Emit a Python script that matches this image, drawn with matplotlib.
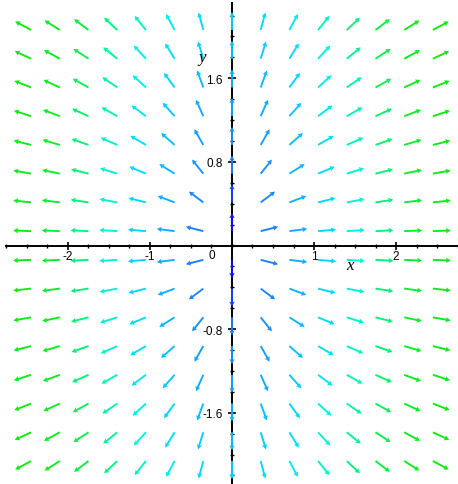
import numpy as np
import matplotlib
matplotlib.use("Agg")
import matplotlib.pyplot as plt
from matplotlib.colors import LinearSegmentedColormap, Normalize

plt.rcParams['axes.unicode_minus'] = False
plt.rcParams['font.family'] = ['Liberation Sans', 'DejaVu Sans']

# grid points where arrows start (data units)
x_points = [-2.45, -2.1, -1.75, -1.4, -1.05, -0.7, -0.35, 0.0,
            0.35, 0.7, 1.05, 1.4, 1.75, 2.1, 2.45]
y_points = [-2.0625, -1.7875, -1.5125, -1.2375, -0.9625, -0.6875, -0.4125, -0.1375,
            0.1375, 0.4125, 0.6875, 0.9625, 1.2375, 1.5125, 1.7875, 2.0625]

x_major = [-2, -1, 1, 2]
x_major_labels = ['-2', '-1', '1', '2']
y_major = [-1.6, -0.8, 0.8, 1.6]
y_major_labels = ['-1.6', '-0.8', '0.8', '1.6']

W, H = 458, 485
fig = plt.figure(figsize=(W / 100, H / 100), dpi=100)
ax = fig.add_axes([0, 0, 1, 1])

ox, oy = 232.0, 246.5     # origin pixel (from top-left)
sx, sy = 82.0, 104.5      # pixels per unit
ax.set_xlim(-ox / sx, (W - ox) / sx)
ax.set_ylim(-(H - oy) / sy, oy / sy)

X, Y = np.meshgrid(np.array(x_points), np.array(y_points))
FX = X
FY = Y / 2.0
mag = np.hypot(FX, FY)

# screen-space direction with fixed arrow length in pixels
fig.canvas.draw()
p0 = ax.transData.transform((0, 0))
p1 = ax.transData.transform((1, 1))
kx, ky = p1[0] - p0[0], p1[1] - p0[1]
US, VS = FX * kx, FY * ky
n = np.hypot(US, VS)
L = 18.0
U = US / n * L
V = VS / n * L

cmap = LinearSegmentedColormap.from_list('bcg', [
    (0.00, (0.05, 0.05, 1.00)),
    (0.11, (0.12, 0.50, 1.00)),
    (0.37, (0.00, 0.83, 1.00)),
    (0.50, (0.00, 0.95, 0.88)),
    (0.65, (0.00, 0.95, 0.50)),
    (0.80, (0.05, 0.93, 0.15)),
    (1.00, (0.05, 0.92, 0.05)),
])

ax.quiver(X, Y, U, V, mag, cmap=cmap, norm=Normalize(mag.min(), mag.max()),
          angles='uv', units='dots', scale_units='dots', scale=1,
          width=1.9, headwidth=2.8, headlength=2.6, headaxislength=2.3,
          pivot='tail', zorder=3)

for s in ['top', 'right']:
    ax.spines[s].set_visible(False)
ax.spines['left'].set_position(('data', 0))
ax.spines['bottom'].set_position(('data', 0))
ax.spines['bottom'].set_bounds(-2.75, 2.78)
ax.spines['left'].set_bounds(-2.3, 2.32)
for s in ['left', 'bottom']:
    ax.spines[s].set_linewidth(1.4)
    ax.spines[s].set_zorder(2)

ax.set_xticks(x_major)
ax.set_xticklabels(x_major_labels)
ax.set_xticks(np.arange(-2.75, 2.76, 0.25), minor=True)
ax.set_yticks(y_major)
ax.set_yticklabels(y_major_labels)
ax.set_yticks(np.arange(-2.2, 2.21, 0.2), minor=True)
ax.tick_params(which='major', direction='inout', length=5.5, width=1.2, labelsize=8.5, pad=0.5)
ax.tick_params(which='minor', direction='inout', length=3, width=1.0)
ax.tick_params(axis='y', which='major', pad=4)

ax.text((212 - ox) / sx, (oy - 256) / sy, '0', fontsize=8.5, ha='center', va='center')
ax.text((350 - ox) / sx, (oy - 266) / sy, 'x', fontsize=12, family='Liberation Serif',
        style='italic', ha='center', va='center')
ax.text((202 - ox) / sx, (oy - 58) / sy, 'y', fontsize=12, family='Liberation Serif',
        style='italic', ha='center', va='center')

fig.savefig('out.png', dpi=100)
